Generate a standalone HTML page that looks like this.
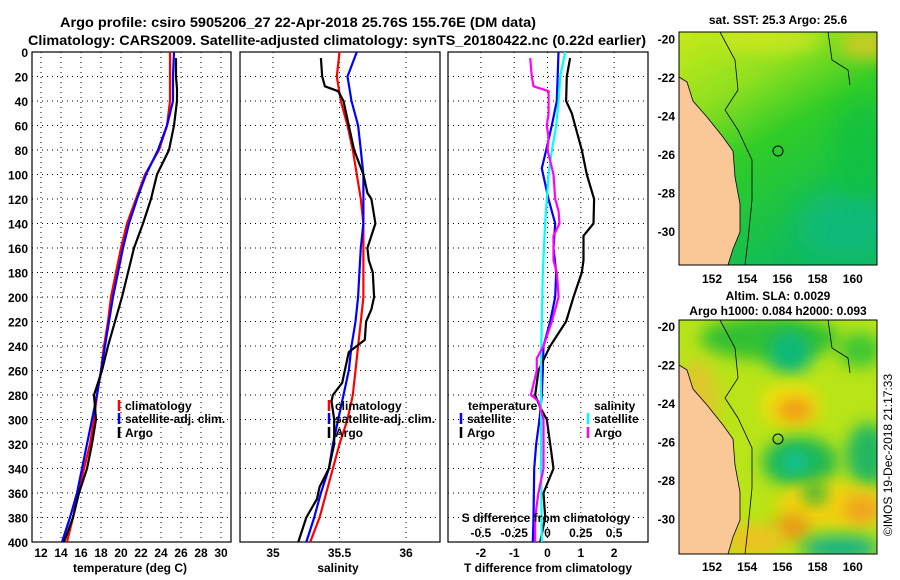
<!DOCTYPE html>
<html><head><meta charset="utf-8"><style>
body{margin:0;background:#fff}
svg{display:block;font-family:"Liberation Sans",sans-serif;font-weight:bold}
</style></head><body>
<svg id="c" width="900" height="580" viewBox="0 0 900 580">
<defs>
<filter id="bl" x="-50%" y="-50%" width="200%" height="200%"><feGaussianBlur stdDeviation="8"/></filter>
<filter id="bl2" x="-50%" y="-50%" width="200%" height="200%"><feGaussianBlur stdDeviation="14"/></filter>
<linearGradient id="sst" x1="0" y1="0" x2="0.5" y2="1"><stop offset="0" stop-color="#c8ea18"/><stop offset="0.3" stop-color="#90e020"/><stop offset="0.55" stop-color="#30cc28"/><stop offset="1" stop-color="#10bc58"/></linearGradient>
<clipPath id="m1"><rect x="679" y="32" width="198" height="233"/></clipPath>
<clipPath id="m2"><rect x="679" y="320" width="198" height="234"/></clipPath>
</defs>
<text x="298" y="27" text-anchor="middle" font-size="14" textLength="476" lengthAdjust="spacingAndGlyphs">Argo profile: csiro 5905206_27 22-Apr-2018 25.76S 155.76E (DM data)</text>
<text x="337" y="45" text-anchor="middle" font-size="14" textLength="618" lengthAdjust="spacingAndGlyphs">Climatology: CARS2009. Satellite-adjusted climatology: synTS_20180422.nc (0.22d earlier)</text>
<g id="p1"></g>
<g id="p2"></g>
<g id="p3"></g>
<g id="maps">
<text x="778" y="24" text-anchor="middle" font-size="12">sat. SST: 25.3 Argo: 25.6</text>
<g clip-path="url(#m1)">
<rect x="679" y="32" width="198" height="233" fill="url(#sst)"/>
<ellipse cx="845" cy="225" rx="50" ry="35" fill="#10b888" opacity="0.7" filter="url(#bl2)"/>
<ellipse cx="870" cy="45" rx="30" ry="15" fill="#f0c820" opacity="0.7" filter="url(#bl)"/>
<ellipse cx="770" cy="40" rx="50" ry="12" fill="#d8e820" opacity="0.7" filter="url(#bl)"/>
<ellipse cx="860" cy="150" rx="30" ry="50" fill="#10c040" opacity="0.6" filter="url(#bl)"/>
<path d="M679 77 L687 82 L693 101 L707 117 L723 137 L733 151 L735 177 L740 204 L740 232 L733 249 L728 265 L679 265Z" fill="#f9c896" stroke="#000" stroke-width="0.8"/>
<path d="M720 32 L735 60 L738 90 L725 110 L738 130 L752 160 L752 200 L748 240 L745 265" fill="none" stroke="#000" stroke-width="0.8"/>
<path d="M828 32 L832 60 L848 70 L850 85" fill="none" stroke="#000" stroke-width="0.8"/>
<circle cx="778" cy="151" r="5" fill="none" stroke="#000"/>
</g>
<rect x="679" y="32" width="198" height="233" fill="none" stroke="#000"/>
<text x="778" y="300" text-anchor="middle" font-size="12">Altim. SLA: 0.0029</text>
<text x="778" y="315" text-anchor="middle" font-size="12">Argo h1000: 0.084 h2000: 0.093</text>
<g clip-path="url(#m2)">
<rect x="679" y="320" width="198" height="234" fill="#b8e418"/>
<ellipse cx="770" cy="338" rx="70" ry="22" fill="#30c030" filter="url(#bl)"/>
<ellipse cx="790" cy="352" rx="22" ry="22" fill="#10b878" filter="url(#bl)"/>
<ellipse cx="860" cy="350" rx="22" ry="18" fill="#40c830" filter="url(#bl)"/>
<ellipse cx="790" cy="405" rx="30" ry="22" fill="#f0e010" filter="url(#bl)"/>
<ellipse cx="795" cy="410" rx="18" ry="12" fill="#f09818" filter="url(#bl)"/>
<ellipse cx="800" cy="462" rx="38" ry="25" fill="#20b850" filter="url(#bl)"/>
<ellipse cx="795" cy="462" rx="15" ry="12" fill="#10c098" filter="url(#bl)"/>
<ellipse cx="868" cy="455" rx="22" ry="32" fill="#20b860" filter="url(#bl)"/>
<ellipse cx="830" cy="505" rx="55" ry="22" fill="#f0d010" filter="url(#bl)"/>
<ellipse cx="862" cy="510" rx="18" ry="14" fill="#f0a020" filter="url(#bl)"/>
<ellipse cx="815" cy="493" rx="10" ry="10" fill="#10b040" filter="url(#bl)"/>
<ellipse cx="792" cy="528" rx="18" ry="12" fill="#f09018" filter="url(#bl)"/>
<ellipse cx="840" cy="548" rx="40" ry="12" fill="#10b088" filter="url(#bl)"/>
<ellipse cx="755" cy="540" rx="30" ry="15" fill="#f0c020" filter="url(#bl)"/>
<ellipse cx="698" cy="400" rx="20" ry="40" fill="#e8c030" opacity="0.8" filter="url(#bl)"/>
<path d="M679 365 L687 370 L693 389 L707 405 L723 425 L733 439 L735 465 L740 492 L740 520 L733 537 L728 554 L679 554Z" fill="#f9c896" stroke="#000" stroke-width="0.8"/>
<path d="M720 320 L735 348 L738 378 L725 398 L738 418 L752 448 L752 488 L748 528 L745 554" fill="none" stroke="#000" stroke-width="0.8"/>
<path d="M828 320 L832 348 L848 358 L850 373" fill="none" stroke="#000" stroke-width="0.8"/>
<circle cx="778" cy="439" r="5" fill="none" stroke="#000"/>
</g>
<rect x="679" y="320" width="198" height="234" fill="none" stroke="#000"/>
<text transform="translate(892,455) rotate(-90)" text-anchor="middle" font-size="12" font-weight="normal">©IMOS 19-Dec-2018 21:17:33</text>
</g>
</svg>
<script>
const depths=[0,20,40,60,80,100,120,140,160,180,200,220,240,260,280,300,320,340,360,380,400];
const climT=[24.9,24.9,24.9,24.6,23.8,22.4,21.5,20.6,20.0,19.5,19.0,18.7,18.3,18.0,17.6,17.3,16.9,16.3,15.7,15.2,14.6];
const satT=[25.3,25.2,25.2,24.6,23.7,22.5,21.6,20.8,20.2,19.7,19.2,18.8,18.4,18.0,17.6,17.1,16.6,16.1,15.6,14.9,14.1];
const argoDepths=[5,20,30,40,60,80,100,120,140,160,180,200,220,240,260,280,290,300,320,340,360,380,400];
const argoT=[25.5,25.5,25.6,25.6,25.3,24.8,23.6,23.0,22.2,21.3,20.7,20.1,19.4,18.7,18.1,17.3,17.4,17.5,17.1,16.6,15.8,15.2,14.3];
const climS=[35.50,35.48,35.51,35.56,35.60,35.63,35.66,35.68,35.68,35.68,35.68,35.66,35.64,35.62,35.60,35.56,35.50,35.45,35.40,35.35,35.28];
const satS=[35.63,35.56,35.59,35.64,35.66,35.68,35.68,35.68,35.66,35.65,35.64,35.62,35.59,35.57,35.53,35.49,35.45,35.42,35.36,35.31,35.25];
const argoSDepths=[5,20,28,32,40,60,80,100,110,115,120,140,160,170,180,200,210,220,235,240,245,260,270,280,285,300,320,340,355,365,380,400];
const argoS=[35.36,35.37,35.39,35.49,35.53,35.57,35.61,35.68,35.70,35.71,35.74,35.77,35.71,35.72,35.75,35.76,35.74,35.70,35.69,35.63,35.57,35.54,35.52,35.45,35.44,35.46,35.46,35.42,35.35,35.33,35.25,35.19];
const satTdDepths=[0,40,60,80,95,120,140,160,180,200,220,240,260,280,300,320,340,380,400];
const satTdiff=[0.33,0.28,0.13,-0.04,-0.17,0.03,0.23,0.18,0.26,0.23,0.08,-0.12,-0.14,-0.17,-0.24,-0.34,-0.40,-0.42,-0.44];
const argoTdDepths=[5,20,40,50,60,80,100,120,140,150,170,180,200,220,240,250,260,280,290,300,320,340,360,380,400];
const argoTdiff=[0.68,0.58,0.56,0.73,0.83,1.03,1.18,1.40,1.38,1.08,1.08,1.03,0.78,0.56,0.08,-0.10,-0.27,-0.37,-0.22,-0.02,0.08,0.18,-0.12,-0.07,-0.22];
const satSdDepths=[0,20,40,60,80,100,140,180,220,260,300,340,400];
const satSdiff=[0.133,0.095,0.083,0.065,0.033,0.008,-0.018,-0.035,-0.043,-0.050,-0.048,-0.048,-0.043];
const argoSdDepths=[5,20,28,32,50,60,70,80,100,120,130,140,150,170,180,200,220,240,250,260,280,285,300,320,340,360,380,400];
const argoSdiff=[-0.130,-0.118,-0.105,0.008,0.008,-0.005,0.008,0,0.045,0.058,0.083,0.090,0.045,0.045,0.070,0.083,0.033,-0.030,-0.080,-0.080,-0.125,-0.068,-0.030,-0.030,-0.030,-0.068,-0.093,-0.093];
const depthTicks=[0,20,40,60,80,100,120,140,160,180,200,220,240,260,280,300,320,340,360,380,400];
const tTicks=[12,14,16,18,20,22,24,26,28,30];
const sTicks=[35,35.5,36];
const tdTicks=[-2,-1,0,1,2];
const sdTicks=[-0.5,-0.25,0,0.25,0.5];
const sdTickLabels=["-0.5","-0.25","0","0.25","0.5"];

const NS='http://www.w3.org/2000/svg';
const Y0=52,Y1=542;
const yD=d=>Y0+d*(Y1-Y0)/400;
const xT=t=>41+(t-12)*10;
const xS=s=>273+(s-35)*133;
const xTd=t=>547.5+t*33.3;
const xSd=s=>547.5+s*4*33.3;
function mk(tag,attrs,parent){const e=document.createElementNS(NS,tag);for(const k in attrs)e.setAttribute(k,attrs[k]);parent.appendChild(e);return e;}
function txt(p,x,y,s,anchor,size){const t=mk('text',{x:x,y:y,'text-anchor':anchor||'middle','font-size':size||12},p);t.textContent=s;return t;}
function panel(g,x0,x1,gridX,name){
  depthTicks.forEach(d=>{if(d>0&&d<400){const l=mk('line',{x1:x0,x2:x1,y1:yD(d),y2:yD(d),stroke:'#000','stroke-dasharray':'1,4','stroke-width':1},g);
    
    }});
  gridX.forEach(x=>{const l=mk('line',{x1:x,x2:x,y1:Y0,y2:Y1,stroke:'#000','stroke-dasharray':'1,4','stroke-width':1},g);
    
    });
  const r=mk('rect',{x:x0,y:Y0,width:x1-x0,height:Y1-Y0,fill:'none',stroke:'#000','stroke-width':1.2},g);
  
  
}
function line(g,xs,ds,fx,col,name){
  const pts=xs.map((v,i)=>fx(v).toFixed(1)+','+yD(ds[i]).toFixed(1)).join(' ');
  const p=mk('polyline',{points:pts,fill:'none',stroke:col,'stroke-width':2.2,'stroke-linejoin':'round'},g);
  
  
}
function legend(g,x,y,col,label,name){
  const l=mk('line',{x1:x,x2:x,y1:y-10,y2:y+1,stroke:col,'stroke-width':2.5},g);
  
  
  const t=txt(g,x+6,y,label,'start',12);
  
  
}
const p1=document.getElementById('p1'),p2=document.getElementById('p2'),p3=document.getElementById('p3');
panel(p1,32,231,tTicks.map(xT),'temperature');
depthTicks.forEach(d=>{const t=txt(p1,28,yD(d)+5,String(d),'end',12);
  
  });
tTicks.forEach(v=>{const t=txt(p1,xT(v),557,String(v));
  
  });
const a1=txt(p1,130,572,'temperature (deg C)');
line(p1,climT,depths,xT,'#f00','climatology-temperature');
line(p1,satT,depths,xT,'#00f','satellite-temperature');
line(p1,argoT,argoDepths,xT,'#000','argo-temperature');
legend(p1,119,410,'#f00','climatology','legend-climatology-t');
legend(p1,119,423,'#00f','satellite-adj. clim.','legend-satellite-t');
legend(p1,119,437,'#000','Argo','legend-argo-t');
panel(p2,240,440,sTicks.map(xS),'salinity');
sTicks.forEach(v=>{const t=txt(p2,xS(v),557,String(v));
  
  });
const a2=txt(p2,338,572,'salinity');
line(p2,climS,depths,xS,'#f00','climatology-salinity');
line(p2,satS,depths,xS,'#00f','satellite-salinity');
line(p2,argoS,argoSDepths,xS,'#000','argo-salinity');
legend(p2,329,410,'#f00','climatology','legend-climatology-s');
legend(p2,329,423,'#00f','satellite-adj. clim.','legend-satellite-s');
legend(p2,329,437,'#000','Argo','legend-argo-s');
panel(p3,448,648,tdTicks.map(xTd),'difference');
tdTicks.forEach(v=>{const t=txt(p3,xTd(v),557,String(v));
  
  });
const a3=txt(p3,548,572,'T difference from climatology');
line(p3,satTdiff,satTdDepths,xTd,'#00f','satellite-t-diff');
line(p3,argoTdiff,argoTdDepths,xTd,'#000','argo-t-diff');
line(p3,satSdiff,satSdDepths,xSd,'#0ff','satellite-s-diff');
line(p3,argoSdiff,argoSdDepths,xSd,'#f0f','argo-s-diff');
const sl=txt(p3,546,522,'S difference from climatology');
sdTicks.forEach((v,i)=>{const t=txt(p3,xSd(v),537,sdTickLabels[i]);
  
  });
const lt=txt(p3,468,410,'temperature','start',12);
const ls=txt(p3,594,410,'salinity','start',12);
legend(p3,461,423,'#00f','satellite','legend-satellite-td');
legend(p3,461,437,'#000','Argo','legend-argo-td');
legend(p3,588,423,'#0ff','satellite','legend-satellite-sd');
legend(p3,588,437,'#f0f','Argo','legend-argo-sd');
const maps=document.getElementById('maps');
const latTicks=[-20,-22,-24,-26,-28,-30];
const lonTicks=[152,154,156,158,160];
const lonX=l=>712+(l-152)*17.6;
[[39.4,0],[327,1]].forEach(([y20,k])=>{
  latTicks.forEach(lat=>{const y=y20+(-20-lat)*19.25;const t=txt(maps,675,y+4,String(lat),'end',12);
    
    });
  lonTicks.forEach(l=>{const t=txt(maps,lonX(l),k?571:283,String(l));
    
    });
});
</script>
</body></html>
